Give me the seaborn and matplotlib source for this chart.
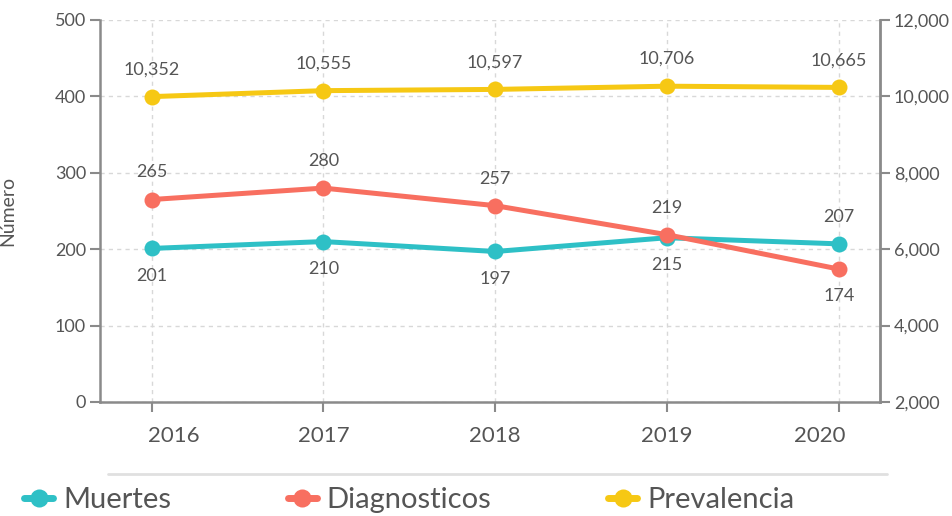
import matplotlib
matplotlib.use("Agg")
import matplotlib.pyplot as plt
import matplotlib.transforms as mtransforms
from matplotlib.lines import Line2D
import seaborn as sns
import pandas as pd

# ===================== 数据 =====================
years = [2016, 2017, 2018, 2019, 2020]
muertes = [201, 210, 197, 215, 207]
diagnosticos = [265, 280, 257, 219, 174]
prevalencia = [10352, 10555, 10597, 10706, 10665]
left_ticks = [0, 100, 200, 300, 400, 500]
right_ticks = [2000, 4000, 6000, 8000, 10000, 12000]

# label above (+1) or below (-1) each point
muertes_side = [-1, -1, -1, -1, 1]
diag_side = [1, 1, 1, 1, -1]
prev_side = [1, 1, 1, 1, 1]

c_muertes = "#2ec0c6"
c_diag = "#f86f60"
c_prev = "#f6c814"
grey_txt = "#555555"
grey_axis = "#8a8a8a"

sns.set_style("white")
plt.rcParams["font.family"] = ["Lato", "DejaVu Sans"]

df = pd.DataFrame({"year": years, "Muertes": muertes,
                   "Diagnosticos": diagnosticos, "Prevalencia": prevalencia})

fig = plt.figure(figsize=(9.53, 5.16), dpi=100)
ax = fig.add_axes([100/953, 1-402/516, 780/953, 382/516])
ax2 = ax.twinx()   # eje derecho visible
ax3 = ax.twinx()   # escala de la serie Prevalencia

line_kw = dict(linewidth=3.6, marker="o", markersize=11.5, markeredgewidth=0, legend=False)
sns.lineplot(data=df, x="year", y="Muertes", ax=ax, color=c_muertes, **line_kw)
sns.lineplot(data=df, x="year", y="Diagnosticos", ax=ax, color=c_diag, **line_kw)
sns.lineplot(data=df, x="year", y="Prevalencia", ax=ax3, color=c_prev, **line_kw)

def labels(a, vals, side):
    for x, v, s in zip(years, vals, side):
        a.annotate(f"{v:,}", xy=(x, v), xytext=(0, 19.5*s), textcoords="offset points",
                   ha="center", va="center", fontsize=13, color=grey_txt)

labels(ax, muertes, muertes_side)
labels(ax, diagnosticos, diag_side)
labels(ax3, prevalencia, prev_side)

# ===================== ejes =====================
ax.set_xlim(2015.7, 2020.24)
ax.set_ylim(0, 500)
ax.set_xticks(years)
ax.set_xticklabels([str(y) for y in years])
ax.set_yticks(left_ticks)
ax.grid(True, linestyle=(0, (3, 3)), color="#d8d8d8", linewidth=1)
ax.set_axisbelow(True)
for s in ["top", "right"]:
    ax.spines[s].set_visible(False)
for s in ["left", "bottom"]:
    ax.spines[s].set_color(grey_axis)
    ax.spines[s].set_linewidth(1.8)
ax.tick_params(axis="y", length=7, width=1.5, color=grey_axis, labelsize=13,
               labelcolor=grey_txt, pad=3, left=True)
ax.tick_params(axis="x", length=7, width=1.5, color=grey_axis, labelsize=16,
               labelcolor=grey_txt, pad=10, bottom=True)
# primera y última etiqueta empujadas hacia dentro
xt = ax.get_xticklabels()
xt[0].set_ha("left")
xt[0].set_transform(xt[0].get_transform() + mtransforms.ScaledTranslation(-4/100, 0, fig.dpi_scale_trans))
xt[-1].set_ha("right")
xt[-1].set_transform(xt[-1].get_transform() + mtransforms.ScaledTranslation(7/100, 0, fig.dpi_scale_trans))
ax.set_xlabel("")
ax.set_ylabel("Número", fontsize=14, color=grey_txt)
ax.yaxis.set_label_coords(-0.108, 0.5)

ax2.set_ylim(2000, 12000)
ax2.set_yticks(right_ticks)
ax2.set_yticklabels([f"{t:,}" for t in right_ticks])
for s in ["top", "left", "bottom"]:
    ax2.spines[s].set_visible(False)
ax2.spines["right"].set_color(grey_axis)
ax2.spines["right"].set_linewidth(2)
ax2.tick_params(axis="y", length=7, width=1.5, color=grey_axis, labelsize=13,
                labelcolor=grey_txt, pad=3, right=True)
ax2.grid(False)

ax3.set_ylim(0, 12950)
ax3.axis("off")
ax3.set_ylabel("")

# ===================== leyenda =====================
fig.add_artist(Line2D([108/953, 887/953], [1-474/516]*2, color="#e0e0e0", linewidth=2))
handles = [Line2D([], [], color=c, linewidth=5, marker="o", markersize=13,
                  markeredgewidth=0) for c in [c_muertes, c_diag, c_prev]]
fig.legend(handles, ["Muertes", "Diagnosticos", "Prevalencia"], ncol=3,
           loc="center left", bbox_to_anchor=(24/953, 1-500/516), frameon=False,
           fontsize=21, labelcolor=grey_txt, handlelength=1.0, handletextpad=0.34,
           columnspacing=4.0, borderaxespad=0, borderpad=0)

fig.savefig("out.png", dpi=100)
